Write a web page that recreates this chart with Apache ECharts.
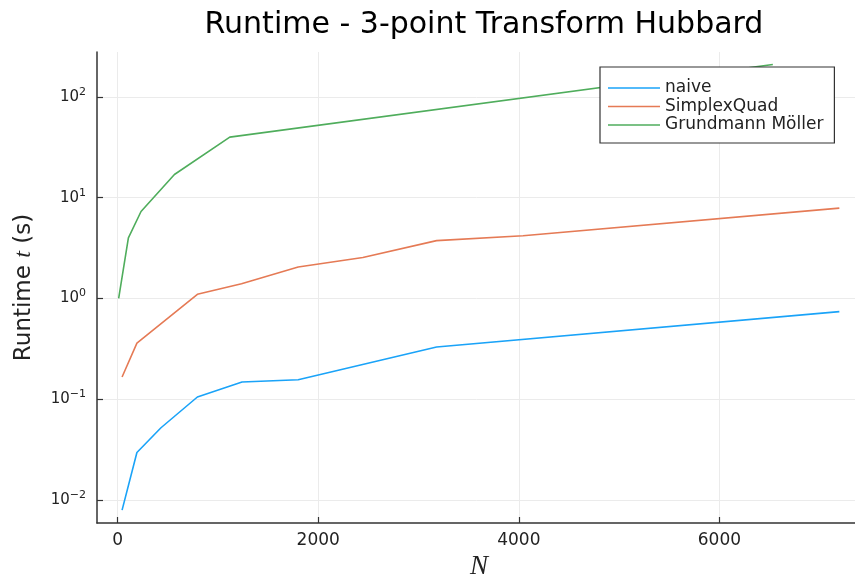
<!DOCTYPE html>
<html>
<head>
<meta charset="utf-8">
<script src="https://cdn.jsdelivr.net/npm/echarts@6/dist/echarts.min.js"></script>
<style>
  html, body { margin: 0; padding: 0; background: #fff; }
  #chart { width: 855px; height: 581px; }
</style>
</head>
<body>
<div id="chart"></div>
<script>
// Runtime measurements (seconds) against problem size N
const naiveN = [44, 192, 432, 795, 1240, 1800, 3180, 7196];
const naiveT = [0.0079, 0.0295, 0.052, 0.105, 0.148, 0.156, 0.33, 0.74];

const simplexN = [44, 192, 795, 1235, 1800, 2445, 3180, 4042, 7196];
const simplexT = [0.166, 0.36, 1.1, 1.4, 2.05, 2.55, 3.75, 4.19, 7.88];

const gmN = [10, 107, 233, 566, 1118, 6533];
const gmT = [1.0, 4.0, 7.3, 17.0, 40.0, 210];

const xTicks = [0, 2000, 4000, 6000];
const yTicks = [0.01, 0.1, 1, 10, 100];

const seriesNames = ['naive', 'SimplexQuad', 'Grundmann Möller'];
const seriesColors = ['#1AA3F8', '#E57A55', '#4FAD5C'];

function pairs(xs, ys) {
  return xs.map((x, i) => [x, ys[i]]);
}

const font = 'DejaVu Sans';
const chart = echarts.init(document.getElementById('chart'));

function powerLabel(v) {
  const e = Math.round(Math.log10(v));
  const exp = e < 0 ? '\u2212' + (-e) : String(e);
  return '{b|10}{s|' + exp + '}';
}

const lineSeries = [[naiveN, naiveT], [simplexN, simplexT], [gmN, gmT]].map((d, i) => ({
  name: seriesNames[i],
  type: 'line',
  data: pairs(d[0], d[1]),
  symbol: 'none',
  smooth: false,
  color: seriesColors[i],
  lineStyle: { width: 1.6, color: seriesColors[i] },
  emphasis: { disabled: true }
}));

chart.setOption({
  animation: false,
  backgroundColor: '#ffffff',
  title: {
    text: 'Runtime - 3-point Transform Hubbard',
    left: 479,
    top: 5,
    textAlign: 'center',
    textStyle: { fontFamily: font, fontSize: 30, fontWeight: 'normal', color: '#000' }
  },
  legend: {
    orient: 'vertical',
    left: 600,
    top: 67,
    padding: [12, 11, 9, 8],
    icon: 'rect',
    itemWidth: 52,
    itemHeight: 1.6,
    itemGap: 0.5,
    backgroundColor: '#fff',
    borderColor: '#333',
    borderWidth: 1.2,
    borderRadius: 0,
    textStyle: { fontFamily: font, fontSize: 17, color: '#222', lineHeight: 18 },
    data: seriesNames
  },
  grid: { left: 97, top: 52, width: 764, bottom: 58, containLabel: false, outerBoundsMode: 'none' },
  xAxis: {
    type: 'value',
    min: -206,
    max: 7412,
    name: 'N',
    nameLocation: 'middle',
    nameGap: 27,
    nameTextStyle: { fontFamily: 'Liberation Serif', fontStyle: 'italic', fontSize: 27, color: '#222' },
    axisLine: { show: true, onZero: false, lineStyle: { color: '#333', width: 1.5 } },
    axisTick: { show: true, inside: true, length: 6, customValues: xTicks, lineStyle: { color: '#333', width: 1.2 } },
    axisLabel: { customValues: xTicks, margin: 9, fontFamily: font, fontSize: 17, color: '#222',
      formatter: v => String(v) },
    splitLine: { show: true, lineStyle: { color: '#ebebeb', width: 1 } }
  },
  yAxis: {
    type: 'log',
    logBase: 10,
    min: 0.00589,
    max: 280,
    name: '{a|Runtime }{i|t}{a| (s)}',
    nameLocation: 'middle',
    nameGap: 61,
    nameRotate: 90,
    nameTextStyle: {
      rich: {
        a: { fontFamily: font, fontSize: 23, color: '#222' },
        i: { fontFamily: 'Liberation Serif', fontStyle: 'italic', fontSize: 24, color: '#222' }
      }
    },
    axisLine: { show: true, onZero: false, lineStyle: { color: '#333', width: 1.5 } },
    axisTick: { show: true, inside: true, length: 6, customValues: yTicks, lineStyle: { color: '#333', width: 1.2 } },
    axisLabel: {
      customValues: yTicks,
      margin: 11,
      formatter: powerLabel,
      rich: {
        b: { fontFamily: font, fontSize: 15, color: '#222' },
        s: { fontFamily: font, fontSize: 11, color: '#222', padding: [0, 0, 10, 0] }
      }
    },
    splitLine: { show: true, lineStyle: { color: '#ebebeb', width: 1 } }
  },
  series: lineSeries
});
</script>
</body>
</html>
